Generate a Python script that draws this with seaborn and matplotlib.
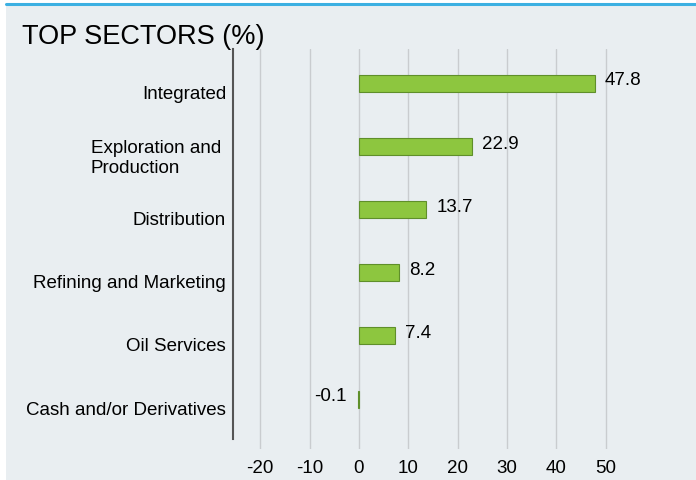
import pandas as pd
import matplotlib.pyplot as plt
import matplotlib.transforms as mtransforms
import seaborn as sns
from matplotlib.patches import Rectangle
from matplotlib.lines import Line2D

# data
sectors = ["Integrated", "Exploration and \nProduction", "Distribution",
           "Refining and Marketing", "Oil Services", "Cash and/or Derivatives"]
weights = [47.8, 22.9, 13.7, 8.2, 7.4, -0.1]
ticks = [-20, -10, 0, 10, 20, 30, 40, 50]

df = pd.DataFrame({"sector": sectors, "weight": weights})

bg = "#e9eef1"
fs = 13.5
sns.set_style("whitegrid", {"axes.facecolor": bg, "grid.color": "#c9cccf",
                            "text.color": "black", "xtick.color": "black",
                            "ytick.color": "black"})
plt.rcParams['font.family'] = ['Liberation Sans', 'DejaVu Sans']

fig = plt.figure(figsize=(6.96, 4.81), dpi=100, facecolor="white")
fig.patches.append(Rectangle((6 / 696, 0), 1, 1 - 6 / 481, transform=fig.transFigure,
                             facecolor=bg, edgecolor="none", zorder=-10))
fig.lines.append(Line2D([6 / 696, 1], [1 - 5 / 481, 1 - 5 / 481], transform=fig.transFigure,
                        color="#3cb0e2", linewidth=2.2))

ax = fig.add_axes([233 / 696, 31 / 481, 422 / 696, 400 / 481])
sns.barplot(data=df, x="weight", y="sector", orient="h", color="#8dc63f",
            saturation=1, width=0.27, edgecolor="#5f8f2a", linewidth=0.8, ax=ax)

for i, v in enumerate(weights):
    if v >= 0:
        ax.text(v + 2, i - 0.05, f"{v}", ha="left", va="center", fontsize=fs, color="black")
    else:
        ax.text(v - 2.4, i - 0.05, f"{v}", ha="right", va="center", fontsize=fs, color="black")

ax.set_xlim(-25.5, 60)
ax.set_ylim(5.79, -0.54)
ax.set_xticks(ticks)
ax.set_xticklabels([str(t) for t in ticks], fontsize=fs)
ax.tick_params(axis="x", length=0, pad=7, labelcolor="black")
ax.tick_params(axis="y", length=0, pad=5, labelsize=fs, labelcolor="black")
ax.yaxis.grid(False)
ax.xaxis.grid(True, linewidth=1)
# category labels sit a little below their bars in the original
shift = mtransforms.ScaledTranslation(0, -0.08, fig.dpi_scale_trans)
for lab in ax.get_yticklabels():
    lab.set_multialignment("left")
    lab.set_transform(lab.get_transform() + shift)
ax.set_xlabel("")
ax.set_ylabel("")
for s in ["top", "right", "bottom"]:
    ax.spines[s].set_visible(False)
ax.spines["left"].set_visible(True)
ax.spines["left"].set_color("#555555")
ax.spines["left"].set_linewidth(1.5)
ax.spines["left"].set_bounds(5.63, -0.54)

fig.text(22 / 696, 1 - 37 / 481, "TOP SECTORS (%)", fontsize=19.5, va="center",
         ha="left", color="black")

fig.savefig("out.png", dpi=100, facecolor="white")
